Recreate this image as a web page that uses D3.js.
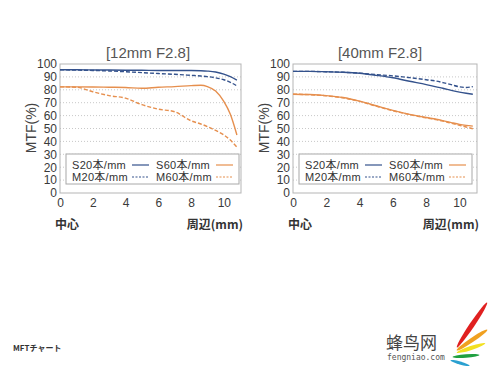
<!DOCTYPE html>
<html>
<head>
<meta charset="utf-8">
<script src="https://cdn.jsdelivr.net/npm/d3@7"></script>
<style>
  body { margin: 0; background: #fff; }
  svg { display: block; }
</style>
</head>
<body>
<div id="chart"></div>
<script>
var width = 500,
    height = 375;

var blue = "#34528c",
    orange = "#e68f4e";

// x positions (mm from centre) shared by all curves
var xs = [0, 1, 2, 3, 4, 5, 6, 7, 8, 8.6, 9, 9.5, 10, 10.4, 10.8];

// [12mm F2.8]
var s20_12 = [95.5, 95.5, 95.4, 95.3, 95.2, 95.1, 95, 95, 95, 94.8, 94.5, 93.8, 92.2, 90.2, 87.5];
var m20_12 = [95.5, 95.3, 95, 94.6, 94, 93.3, 92.6, 92, 91.2, 90.7, 90.2, 89.3, 87.8, 85.8, 83];
var s60_12 = [82.3, 82.3, 82.2, 82, 81.8, 81.2, 82, 82.5, 83.2, 83.5, 82.5, 79, 71, 61, 45];
var m60_12 = [82.3, 82, 78.5, 75.5, 73.5, 68.5, 65, 63, 56, 53.5, 51.5, 48.5, 45, 41, 35.5];

// [40mm F2.8]
var s20_40 = [94.3, 94.3, 94, 93.6, 92.8, 91.2, 89.3, 86.6, 84, 82.3, 81.2, 79.6, 78.2, 77.3, 76.5];
var m20_40 = [94.3, 94.3, 94, 93.6, 92.9, 91.8, 90.8, 89.4, 87.8, 86.8, 85.6, 84, 82.3, 81.8, 82.5];
var s60_40 = [76.6, 76.3, 75.5, 74, 71.2, 67.6, 64, 61, 58.5, 57.2, 56.1, 54.6, 53.2, 52.4, 51.8];
var m60_40 = [76.6, 76.2, 75.3, 73.8, 71, 67.3, 63.8, 60.8, 58.2, 56.9, 55.7, 54.1, 52.5, 51.2, 49.8];

var yTicks = [0, 10, 20, 30, 40, 50, 60, 70, 80, 90, 100];
var xTicks = [0, 2, 4, 6, 8, 10];
var legendNames = ["S20本/mm", "M20本/mm", "S60本/mm", "M60本/mm"];

var svg = d3.select("#chart")
    .append("svg")
    .attr("width", width)
    .attr("height", height);

function panel(opt) {
  var x = d3.scaleLinear().domain([0, 11.05]).range([opt.left, opt.left + opt.w]);
  var y = d3.scaleLinear().domain([0, 100]).range([193, 64]);
  var g = svg.append("g");

  // dotted grid
  g.selectAll(".grid")
      .data(yTicks.slice(1, -1))
      .enter().append("line")
      .attr("x1", x.range()[0]).attr("x2", x.range()[1])
      .attr("y1", function(d) { return y(d); })
      .attr("y2", function(d) { return y(d); })
      .style("stroke", "#c8c8c8")
      .style("stroke-dasharray", "1,2");

  g.append("rect")
      .attr("x", x.range()[0]).attr("y", y(100))
      .attr("width", opt.w).attr("height", y(0) - y(100))
      .style("fill", "none")
      .style("stroke", "#b5b5b5");

  var yAxis = g.append("g")
      .attr("transform", "translate(" + (opt.left - 2) + ",0)")
      .call(d3.axisLeft(y).tickValues(yTicks).tickSize(0).tickPadding(1));
  var xAxis = g.append("g")
      .attr("transform", "translate(0,197)")
      .call(d3.axisBottom(x).tickValues(xTicks).tickSize(0).tickPadding(1));
  [yAxis, xAxis].forEach(function(a) {
    a.select(".domain").remove();
    a.selectAll("text")
        .style("font-family", "Liberation Sans, Arial")
        .style("font-size", "12px")
        .style("fill", "#3a3a3a");
  });

  g.append("text")
      .attr("x", opt.titleX)
      .attr("y", 58)
      .attr("text-anchor", "middle")
      .style("font-family", "Liberation Sans, Arial")
      .style("font-size", "15px")
      .style("fill", "#555")
      .text(opt.title);

  g.append("text")
      .attr("transform", "translate(" + (opt.left - 24) + ",128) rotate(-90)")
      .attr("text-anchor", "middle")
      .style("font-family", "Liberation Sans, Arial")
      .style("font-size", "14px")
      .style("fill", "#444")
      .text("MTF(%)");

  g.append("text")
      .attr("x", opt.left - 5).attr("y", 229)
      .style("font-family", "Noto Sans CJK JP")
      .style("font-size", "12px")
      .style("font-weight", "bold")
      .style("fill", "#333")
      .text("中心");
  g.append("text")
      .attr("x", opt.left + opt.w + 2).attr("y", 229)
      .attr("text-anchor", "end")
      .style("font-family", "Noto Sans CJK JP")
      .style("font-size", "12px")
      .style("font-weight", "bold")
      .style("fill", "#333")
      .text("周辺(mm)");

  var line = d3.line()
      .x(function(d, i) { return x(xs[i]); })
      .y(function(d) { return y(d); })
      .curve(d3.curveMonotoneX);

  var series = [
    {v: opt.s20, color: blue, dash: null},
    {v: opt.m20, color: blue, dash: "4,2"},
    {v: opt.s60, color: orange, dash: null},
    {v: opt.m60, color: orange, dash: "4,2"}
  ];

  g.selectAll(".curve")
      .data(series)
      .enter().append("path")
      .attr("d", function(d) { return line(d.v); })
      .style("fill", "none")
      .style("stroke", function(d) { return d.color; })
      .style("stroke-width", 1.4)
      .style("stroke-dasharray", function(d) { return d.dash; });

  // legend
  var lx = opt.left + 6;
  g.append("rect")
      .attr("x", lx).attr("y", 154)
      .attr("width", 173).attr("height", 30)
      .style("fill", "#fff")
      .style("stroke", "#a8a8a8");

  var items = g.selectAll(".leg")
      .data(series)
      .enter().append("g")
      .attr("transform", function(d, i) {
        return "translate(" + (lx + (i < 2 ? 6 : 90)) + "," + (i % 2 ? 181 : 169) + ")";
      });
  items.append("text")
      .style("font-family", "Liberation Sans, Noto Sans CJK JP")
      .style("font-size", "11px")
      .style("letter-spacing", "0.3px")
      .style("fill", "#333")
      .text(function(d, i) { return legendNames[i]; });
  items.append("line")
      .attr("x1", 60).attr("x2", 77)
      .attr("y1", -4).attr("y2", -4)
      .style("stroke", function(d) { return d.color; })
      .style("stroke-width", 1.2)
      .style("stroke-dasharray", function(d) { return d.dash ? "2,1.5" : null; });
}

panel({left: 60, w: 181, title: "[12mm F2.8]", titleX: 148,
       s20: s20_12, m20: m20_12, s60: s60_12, m60: m60_12});
panel({left: 293, w: 184, title: "[40mm F2.8]", titleX: 380,
       s20: s20_40, m20: m20_40, s60: s60_40, m60: m60_40});

svg.append("text")
    .attr("x", 13).attr("y", 351)
    .style("font-family", "Noto Sans CJK JP")
    .style("font-size", "8px")
    .style("font-weight", "bold")
    .style("fill", "#333")
    .text("MFTチャート");

// watermark logo
svg.append("text")
    .attr("x", 386).attr("y", 349)
    .style("font-family", "Noto Sans CJK SC")
    .style("font-size", "17px")
    .style("fill", "#444")
    .text("蜂鸟网");
svg.append("text")
    .attr("x", 387).attr("y", 360)
    .style("font-family", "DejaVu Sans Mono")
    .style("font-size", "8px")
    .style("fill", "#555")
    .text("fengniao.com");

var feathers = [
  {c: "#e02020", x: 472, y: 325, len: 54, w: 5, a: -56},
  {c: "#f0a020", x: 472, y: 340, len: 37, w: 4.5, a: -34},
  {c: "#f2e020", x: 471, y: 348, len: 30, w: 4, a: -18},
  {c: "#20a040", x: 466, y: 356, len: 27, w: 3.5, a: -4},
  {c: "#2aa0d0", x: 460, y: 363, len: 20, w: 3, a: 16}
];
svg.selectAll(".feather")
    .data(feathers)
    .enter().append("ellipse")
    .attr("transform", function(d) { return "translate(" + d.x + "," + d.y + ") rotate(" + d.a + ")"; })
    .attr("rx", function(d) { return d.len / 2; })
    .attr("ry", function(d) { return d.w / 2; })
    .style("fill", function(d) { return d.c; });
</script>
</body>
</html>
